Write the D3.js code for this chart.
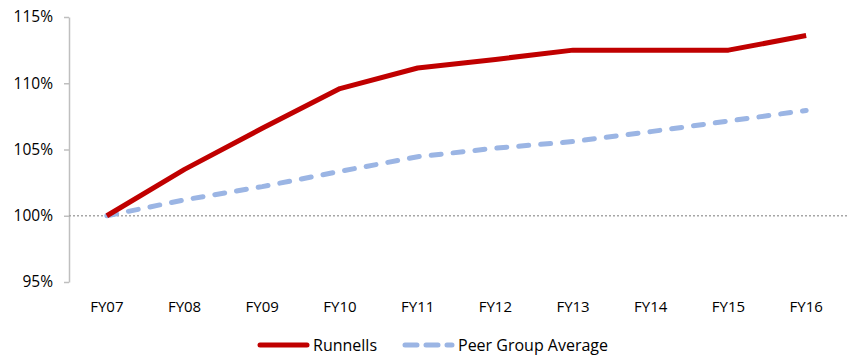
<!DOCTYPE html>
<html><head><meta charset="utf-8">
<script src="https://cdn.jsdelivr.net/npm/d3@7"></script>
<style>body{margin:0;background:#fff}svg text{font-family:"Open Sans",sans-serif;fill:#000}</style>
</head><body>
<svg id="c" width="847" height="355"></svg>
<script>
const categories = ["FY07","FY08","FY09","FY10","FY11","FY12","FY13","FY14","FY15","FY16"];
const runnells = [100, 103.5, 106.6, 109.6, 111.15, 111.8, 112.5, 112.5, 112.5, 113.6];
const peer = [100, 101.2, 102.2, 103.35, 104.45, 105.1, 105.6, 106.35, 107.15, 107.95];
const yTicks = [95, 100, 105, 110, 115];
const seriesNames = ["Runnells", "Peer Group Average"];

const svg = d3.select("#c");
const x = d3.scaleBand().domain(categories).range([68, 845]);
const y = d3.scaleLinear().domain([95, 115]).range([282, 17]);
const cx = d => x(d) + x.bandwidth() / 2;

// y axis
const ya = svg.append("g").attr("transform", "translate(69,0)")
  .call(d3.axisLeft(y).tickValues(yTicks).tickFormat(d => d + "%").tickSize(5).tickSizeOuter(0));
ya.select(".domain").attr("stroke", "#BFBFBF").attr("stroke-width", 1.5);
ya.selectAll(".tick line").attr("stroke", "#BFBFBF").attr("stroke-width", 1.5);
ya.selectAll(".tick text").attr("font-size", 15.5).attr("x", -16).attr("font-family", null);

// x labels
const xa = svg.append("g").attr("transform", "translate(0,300)")
  .call(d3.axisBottom(x).tickSize(0));
xa.select(".domain").remove();
xa.selectAll(".tick text").attr("font-size", 15).attr("dy", "0.71em").attr("y", 1).attr("font-family", null);

// 100% reference line
svg.append("line").attr("x1", 69).attr("x2", 847).attr("y1", y(100)).attr("y2", y(100))
  .attr("stroke", "#A6A6A6").attr("stroke-width", 1.5).attr("stroke-dasharray", "2,2");

const line = d3.line().x((d, i) => cx(categories[i])).y(d => y(d));
svg.append("path").datum(peer).attr("d", line).attr("fill", "none")
  .attr("stroke", "#9BB5E4").attr("stroke-width", 5).attr("stroke-linecap", "round")
  .attr("stroke-dasharray", "10,12");
svg.append("path").datum(runnells).attr("d", line).attr("fill", "none")
  .attr("stroke", "#C00000").attr("stroke-width", 5).attr("stroke-linejoin", "round");

// legend
const lg = svg.append("g");
lg.append("line").attr("x1", 260).attr("x2", 307).attr("y1", 345).attr("y2", 345)
  .attr("stroke", "#C00000").attr("stroke-width", 5).attr("stroke-linecap", "round");
lg.append("text").attr("x", 313).attr("y", 351).attr("font-size", 16).text(seriesNames[0]);
lg.append("line").attr("x1", 405).attr("x2", 452).attr("y1", 345).attr("y2", 345)
  .attr("stroke", "#9BB5E4").attr("stroke-width", 5).attr("stroke-linecap", "round")
  .attr("stroke-dasharray", "12,9");
lg.append("text").attr("x", 458).attr("y", 351).attr("font-size", 16).text(seriesNames[1]);
</script>
</body></html>
